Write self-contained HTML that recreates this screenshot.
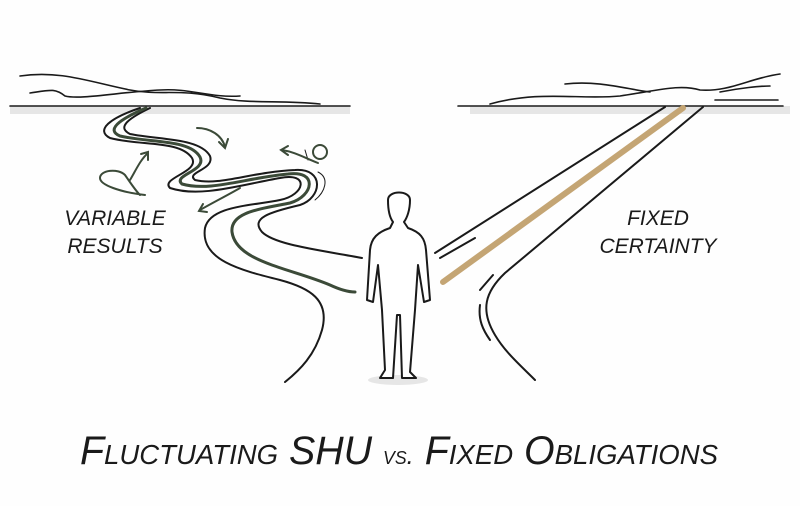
<!DOCTYPE html>
<html><head><meta charset="utf-8"><style>
html,body{margin:0;padding:0;background:#fff;}
svg{display:block}
text{font-family:"Liberation Sans",sans-serif;fill:#1a1a1a}
</style></head><body>
<svg width="800" height="506" viewBox="0 0 800 506" xmlns="http://www.w3.org/2000/svg">
<rect width="800" height="506" fill="#fefefe"/>
<path d="M10 110 L350 110" stroke="#e6e6e6" stroke-width="8"/>
<path d="M470 110 L790 110" stroke="#e6e6e6" stroke-width="8"/>
<ellipse cx="398" cy="380" rx="30" ry="5" fill="#e6e6e6"/>
<g fill="none" stroke="#1a1a1a" stroke-width="1.6" stroke-linecap="round">
<path d="M10 106 L350 106"/>
<path d="M20 76 C60 70 90 82 130 90 C160 96 180 88 220 98 C250 104 280 100 320 104"/>
<path d="M30 93 C50 90 55 88 65 96 C80 100 120 92 160 90 C190 88 210 98 240 96"/>
<path d="M458 106 L783 106"/>
<path d="M490 104 C540 90 580 100 620 96 C660 90 680 84 700 90 C730 92 750 78 780 74"/>
<path d="M565 84 C600 80 630 90 650 92 M720 92 C740 88 760 86 770 86"/>
<path d="M715 100 L778 100"/>
</g>
<g fill="none" stroke-linecap="round" stroke-linejoin="round">
<path d="M140 108 C110 118 95 130 110 138 C140 146 180 140 192 158 C200 172 160 178 170 188 C200 198 240 185 280 178 C310 172 305 195 280 200 C250 206 210 206 205 228 C200 260 240 270 280 280 C310 288 330 300 322 330 C315 355 300 370 285 382" stroke="#1a1a1a" stroke-width="2"/>
<path d="M150 108 C125 120 118 128 130 134 C160 140 200 138 210 156 C215 170 185 172 195 180 C220 186 250 172 295 170 C325 168 322 198 300 205 C270 212 250 218 262 232 C275 245 320 250 362 258" stroke="#1a1a1a" stroke-width="2"/>
<path d="M146 108 C118 120 106 130 120 136 C150 143 190 139 200 157 C207 171 172 175 182 184 C210 192 245 178 288 174 C318 170 314 196 290 203 C260 209 230 212 232 232 C236 262 290 268 330 285 C345 292 352 292 355 292" stroke="#3b4a38" stroke-width="3"/>
<path d="M318 172 C330 178 325 192 315 200 M305 150 L308 160" stroke="#1a1a1a" stroke-width="1"/>
</g>
<g fill="none" stroke="#3b4a38" stroke-width="2" stroke-linecap="round">
<path d="M197 128 C210 128 222 135 225 147"/><path d="M219 142 L225 148 L228 139"/>
<path d="M145 195 C120 192 100 185 100 178 C100 170 118 168 125 175 C130 182 135 190 140 195 M130 180 C135 172 140 160 148 153"/><path d="M141 154 L148 152 L148 160"/>
<path d="M318 163 C305 158 295 152 282 150"/><path d="M288 146 L281 150 L288 155"/>
<circle cx="320" cy="152" r="7"/>
<path d="M240 188 C228 195 214 202 200 210"/><path d="M203 204 L199 211 L207 212"/>
</g>
<g fill="none" stroke="#1a1a1a" stroke-width="2" stroke-linecap="round">
<path d="M665 107 L435 253"/>
<path d="M703 107 L505 273 C485 292 480 310 495 335 C505 352 520 365 535 380"/>
<path d="M440 258 L475 238 M493 275 L480 290 M480 305 C478 320 483 330 490 340"/>
</g>
<path d="M683 108 L443 282" stroke="#c4a574" stroke-width="6" stroke-linecap="round"/>
<g fill="#fff" stroke="#1a1a1a" stroke-width="2" stroke-linejoin="round">
<path d="M388 200 C388 190 410 190 410 200 C410 210 407 218 404 222 L408 228 C420 232 425 238 426 250 L430 300 L424 302 L418 265 L415 310 L410 372 L416 378 L402 378 L400 315 L397 315 L393 378 L380 378 L385 370 L382 310 L378 265 L373 302 L367 300 L370 250 C371 238 378 232 390 228 L393 222 C390 218 388 210 388 200 Z"/>
</g>
<g font-size="21" text-anchor="middle" font-style="italic">
<text x="115" y="225">VARIABLE</text>
<text x="115" y="253">RESULTS</text>
<text x="658" y="225">FIXED</text>
<text x="658" y="253">CERTAINTY</text>
</g>
<text x="80" y="464" font-size="40" font-style="italic" textLength="638" lengthAdjust="spacingAndGlyphs" style="font-variant:small-caps">Fluctuating SHU <tspan font-size="26">vs.</tspan> Fixed Obligations</text>
</svg>
</body></html>
